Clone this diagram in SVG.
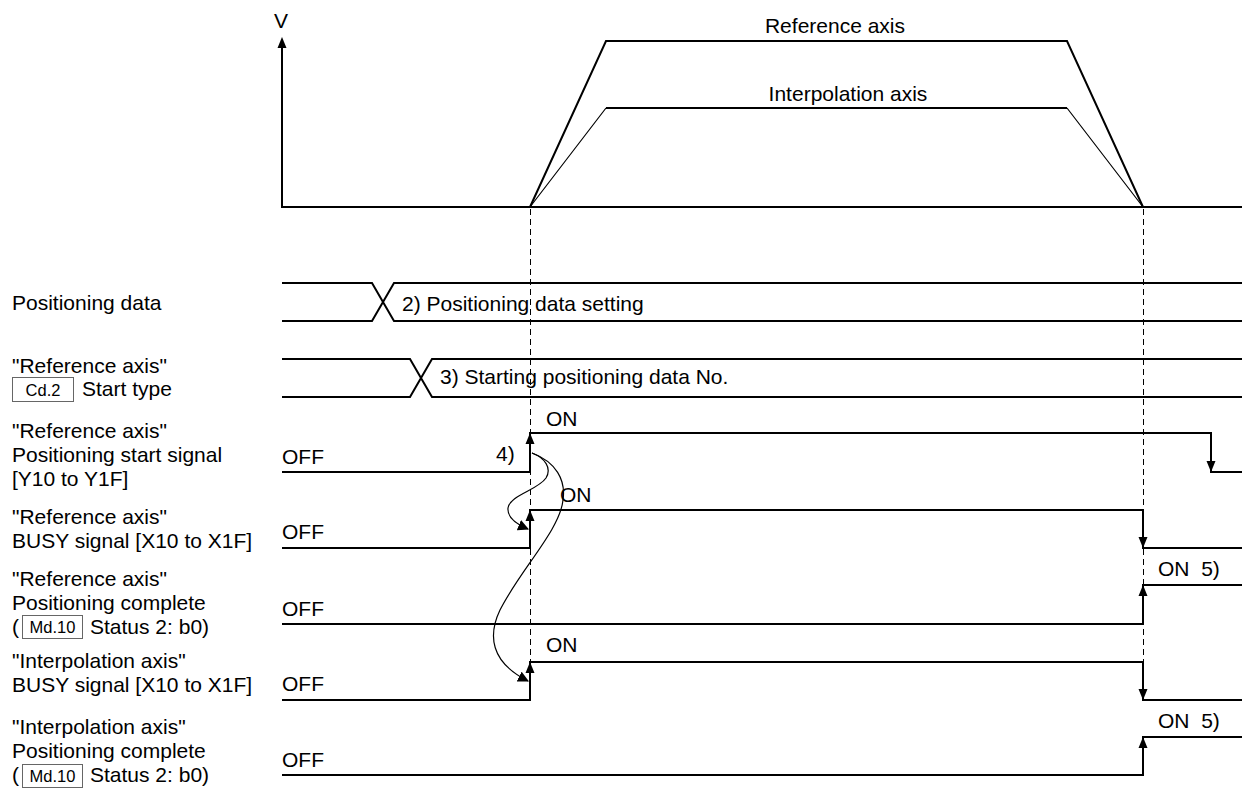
<svg xmlns="http://www.w3.org/2000/svg" width="1242" height="791" viewBox="0 0 1242 791">
<style>
text{font-family:"Liberation Sans",Arial,sans-serif;font-size:21px;fill:#000}
.small{font-size:16.5px}
.pre{white-space:pre}
.sig{fill:none;stroke:#000;stroke-width:2;stroke-linejoin:miter}
.thin{fill:none;stroke:#000;stroke-width:1.2}
.dash{fill:none;stroke:#000;stroke-width:1;stroke-dasharray:6 4;shape-rendering:crispEdges}
.box{fill:none;stroke:#666;stroke-width:1}
.ah{fill:#000}
</style>
<defs>
<marker id="cur" viewBox="0 0 10 10" refX="9" refY="5" markerWidth="11" markerHeight="11" markerUnits="userSpaceOnUse" orient="auto">
<path d="M0,0 L10,5 L0,10 z" fill="#000"/>
</marker>
</defs>
<rect width="1242" height="791" fill="#fff"/>

<g id="velocity-chart">
<path class="sig" d="M282,47 V207 H1242"/>
<polygon class="ah" points="282,37 277.5,48 286.5,48"/>
<text x="274" y="28">V</text>
<path class="sig" d="M530,207 L606,41 H1067 L1143,207"/>
<path class="thin" d="M530,207 L606,108 M1067,108 L1143,207"/>
<path class="sig" d="M606,108 H1067"/>
<text x="835" y="33" text-anchor="middle">Reference axis</text>
<text x="848" y="101" text-anchor="middle">Interpolation axis</text>
</g>

<g id="labels">
<text x="12" y="310">Positioning data</text>
<text x="12" y="373">"Reference axis"</text>
<rect class="box" x="12.5" y="377.5" width="61" height="24"/>
<text class="small" x="43" y="395.5" text-anchor="middle">Cd.2</text>
<text x="82" y="396">Start type</text>
<text x="12" y="438">"Reference axis"</text>
<text x="12" y="462">Positioning start signal</text>
<text x="12" y="486">[Y10 to Y1F]</text>
<text x="12" y="524">"Reference axis"</text>
<text x="12" y="548">BUSY signal [X10 to X1F]</text>
<text x="12" y="586">"Reference axis"</text>
<text x="12" y="610">Positioning complete</text>
<text x="12" y="634">(</text>
<rect class="box" x="22.5" y="615.5" width="60" height="23"/>
<text class="small" x="52.5" y="633" text-anchor="middle">Md.10</text>
<text x="90" y="634">Status 2: b0)</text>
<text x="12" y="668">"Interpolation axis"</text>
<text x="12" y="692">BUSY signal [X10 to X1F]</text>
<text x="12" y="734">"Interpolation axis"</text>
<text x="12" y="758">Positioning complete</text>
<text x="12" y="782">(</text>
<rect class="box" x="22.5" y="764.5" width="60" height="23"/>
<text class="small" x="52.5" y="782" text-anchor="middle">Md.10</text>
<text x="90" y="782">Status 2: b0)</text>
</g>

<g id="positioning-data">
<path class="sig" d="M282,283 H372 L394,321 H1242 M282,321 H372 L394,283 H1242"/>
<text x="402" y="311">2) Positioning data setting</text>
</g>

<g id="start-type">
<path class="sig" d="M282,359 H410 L432,397 H1242 M282,397 H410 L432,359 H1242"/>
<text x="440" y="384">3) Starting positioning data No.</text>
</g>

<g id="start-signal">
<path class="sig" d="M282,472 H530 V433 H1211 V472 H1242"/>
<polygon class="ah" points="530,433 525.5,444 534.5,444"/>
<polygon class="ah" points="1211,472 1206.5,461 1215.5,461"/>
<text x="282" y="464">OFF</text>
<text x="546" y="426">ON</text>
<text x="496" y="461">4)</text>
</g>

<g id="ref-busy">
<path class="sig" d="M282,548 H530 V510 H1143 V548 H1242"/>
<polygon class="ah" points="530,510 525.5,521 534.5,521"/>
<polygon class="ah" points="1143,548 1138.5,537 1147.5,537"/>
<text x="282" y="539">OFF</text>
<text x="560" y="502">ON</text>
</g>

<g id="ref-complete">
<path class="sig" d="M282,624 H1143 V585 H1242"/>
<polygon class="ah" points="1143,585 1138.5,596 1147.5,596"/>
<text x="282" y="616">OFF</text>
<text class="pre" x="1158" y="576" xml:space="preserve">ON  5)</text>
</g>

<g id="interp-busy">
<path class="sig" d="M282,700 H530 V662 H1143 V700 H1242"/>
<polygon class="ah" points="530,662 525.5,673 534.5,673"/>
<polygon class="ah" points="1143,700 1138.5,689 1147.5,689"/>
<text x="282" y="691">OFF</text>
<text x="546" y="652">ON</text>
</g>

<g id="interp-complete">
<path class="sig" d="M282,775 H1143 V737 H1242"/>
<polygon class="ah" points="1143,737 1138.5,748 1147.5,748"/>
<text x="282" y="767">OFF</text>
<text class="pre" x="1158" y="728" xml:space="preserve">ON  5)</text>
</g>

<g id="connectors">
<path class="dash" d="M530,209 V662 M1143,209 V662"/>
<path class="thin" stroke-width="1" d="M532,453 C545,458 552,468 546,478 C538,490 510,495 508,508 C507,518 516,524 528,529" marker-end="url(#cur)"/>
<path class="thin" stroke-width="1" d="M532,453 C556,462 566,480 563,500 C560,530 520,570 500,610 C488,635 490,662 528,681" marker-end="url(#cur)"/>
</g>
</svg>
